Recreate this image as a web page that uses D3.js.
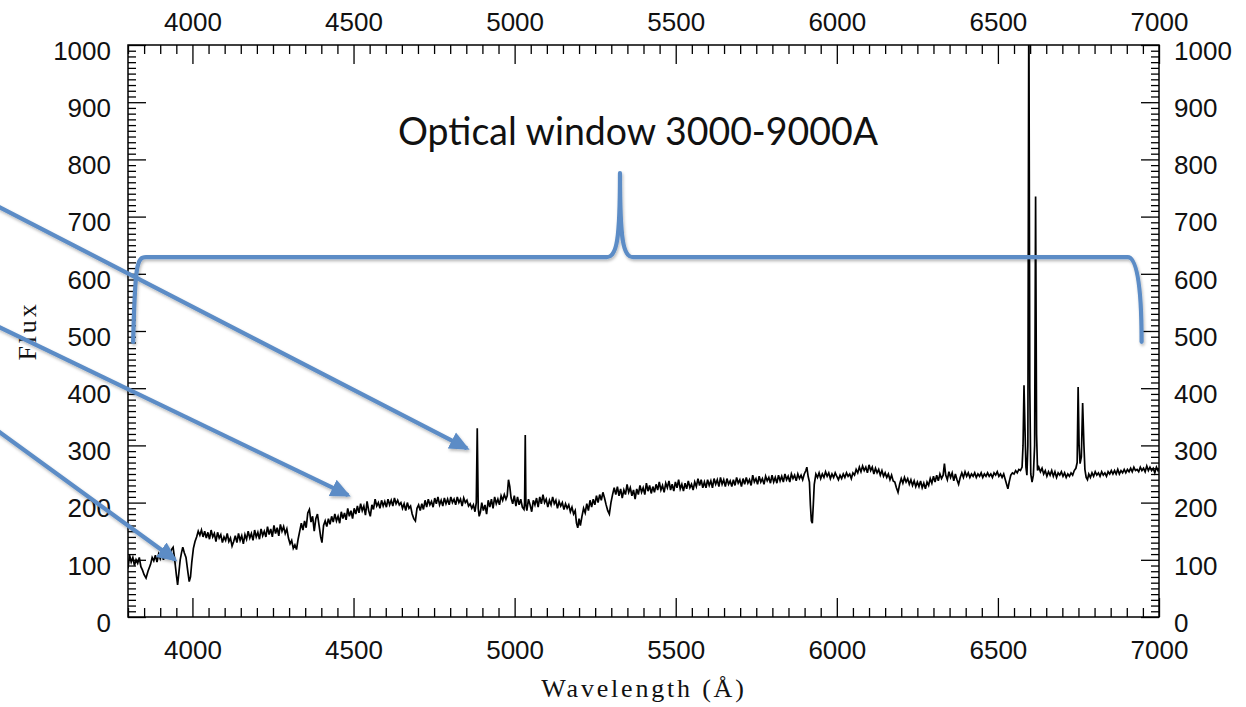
<!DOCTYPE html>
<html><head><meta charset="utf-8">
<script src="https://cdn.jsdelivr.net/npm/d3@7/dist/d3.min.js"></script>
<style>body{margin:0;background:#fff;} svg{display:block}</style>
</head><body>
<svg id="chart" width="1246" height="707"></svg>
<script>
// ---------- data ----------
const xDomain = [3800, 7000];
const yDomain = [0, 1000];
const xMajorTicks = [4000, 4500, 5000, 5500, 6000, 6500, 7000];
const yMajorTicks = [0, 100, 200, 300, 400, 500, 600, 700, 800, 900, 1000];
const xTitle = "Wavelength (Å)";
const yTitle = "Flux";
const annotationText = "Optical window 3000-9000A";

// [wavelength (Å), flux]
const spectrum = [
[3800,85],[3805,108],[3810,96],[3815,104],[3820,90],[3825,100],[3830,94],[3835,104],[3840,88],[3845,82],[3850,74],[3856,68],[3862,80],[3870,92],[3875,104],[3880,98],[3885,108],[3890,96],[3895,110],[3900,102],[3905,112],[3910,100],[3915,114],[3920,106],[3925,116],[3930,108],[3935,118],[3940,122],[3945,100],[3950,74],[3954,56],[3958,78],[3962,100],[3966,112],[3970,122],[3975,112],[3980,104],[3986,78],[3990,62],[3994,70],[3998,96],[4003,120],[4008,132],[4013,140],[4018,150],[4023,143],[4028,152],[4033,140],[4038,150],[4043,138],[4048,148],[4053,136],[4058,152],[4063,140],[4068,146],[4073,132],[4078,148],[4083,138],[4088,144],[4093,130],[4098,140],[4103,134],[4108,146],[4113,132],[4118,138],[4123,124],[4128,132],[4133,142],[4138,130],[4143,146],[4148,134],[4153,142],[4158,128],[4163,144],[4168,136],[4173,150],[4178,138],[4183,146],[4188,134],[4193,152],[4198,140],[4203,148],[4208,136],[4213,154],[4218,142],[4223,150],[4228,140],[4233,158],[4238,144],[4243,154],[4248,140],[4253,160],[4258,146],[4263,156],[4268,142],[4273,162],[4278,150],[4283,158],[4288,146],[4293,154],[4298,138],[4303,128],[4308,134],[4313,120],[4318,126],[4323,118],[4328,136],[4333,150],[4338,164],[4343,152],[4348,168],[4353,156],[4358,182],[4363,188],[4368,166],[4373,176],[4378,150],[4383,172],[4388,180],[4393,160],[4398,140],[4402,130],[4407,160],[4412,168],[4417,158],[4422,172],[4427,162],[4432,176],[4437,166],[4442,180],[4447,168],[4452,176],[4457,164],[4462,184],[4467,172],[4472,182],[4477,170],[4482,190],[4487,176],[4492,186],[4497,172],[4502,190],[4507,180],[4512,194],[4517,182],[4522,198],[4527,186],[4532,194],[4537,178],[4542,202],[4547,186],[4552,176],[4557,196],[4562,188],[4567,206],[4572,194],[4577,200],[4582,190],[4587,204],[4592,194],[4597,202],[4602,192],[4607,206],[4612,196],[4617,204],[4622,194],[4627,208],[4632,198],[4637,204],[4642,196],[4647,200],[4652,190],[4657,198],[4662,186],[4667,200],[4672,190],[4677,194],[4682,180],[4687,172],[4692,168],[4697,190],[4702,196],[4707,186],[4712,198],[4717,188],[4722,204],[4727,192],[4732,206],[4737,196],[4742,202],[4747,192],[4752,208],[4757,198],[4762,210],[4767,196],[4772,204],[4777,194],[4782,208],[4787,198],[4792,206],[4797,196],[4802,210],[4807,200],[4812,206],[4817,196],[4822,210],[4827,200],[4832,206],[4837,194],[4842,208],[4847,200],[4852,204],[4857,194],[4862,198],[4867,190],[4872,196],[4877,184],[4881,200],[4884,330],[4887,190],[4890,176],[4894,184],[4898,200],[4903,186],[4908,196],[4913,180],[4918,204],[4923,192],[4928,206],[4933,190],[4938,210],[4943,198],[4948,206],[4953,196],[4958,212],[4963,204],[4968,214],[4973,206],[4977,212],[4981,240],[4985,228],[4989,208],[4994,198],[4999,212],[5004,194],[5009,210],[5014,196],[5019,206],[5024,192],[5029,188],[5031,200],[5033,318],[5035,196],[5038,186],[5043,206],[5048,196],[5053,184],[5058,204],[5063,196],[5068,208],[5073,192],[5078,210],[5083,198],[5088,214],[5093,200],[5098,206],[5103,192],[5108,204],[5113,196],[5118,210],[5123,198],[5128,204],[5133,190],[5138,202],[5143,194],[5148,200],[5153,188],[5158,198],[5163,190],[5168,196],[5173,184],[5178,192],[5183,180],[5188,186],[5192,164],[5196,156],[5200,172],[5204,160],[5209,176],[5214,190],[5219,182],[5224,198],[5229,186],[5234,204],[5239,192],[5244,206],[5249,196],[5254,212],[5259,200],[5264,214],[5269,204],[5274,218],[5279,208],[5284,196],[5289,186],[5294,180],[5299,200],[5304,214],[5309,226],[5314,214],[5319,228],[5324,212],[5329,224],[5334,208],[5339,222],[5344,214],[5349,232],[5354,218],[5359,226],[5364,212],[5369,222],[5374,206],[5379,224],[5384,214],[5389,230],[5394,218],[5399,226],[5404,214],[5409,234],[5414,220],[5419,230],[5424,216],[5429,228],[5434,218],[5439,232],[5444,222],[5449,236],[5454,222],[5459,230],[5464,218],[5469,234],[5474,226],[5479,238],[5484,222],[5489,232],[5494,220],[5499,236],[5504,226],[5509,240],[5514,224],[5519,232],[5524,220],[5529,234],[5534,224],[5539,238],[5544,226],[5549,232],[5554,222],[5559,236],[5564,228],[5569,242],[5574,230],[5579,240],[5584,226],[5589,236],[5594,226],[5599,240],[5604,230],[5609,238],[5614,226],[5619,242],[5624,232],[5629,240],[5634,228],[5639,244],[5644,232],[5649,240],[5654,228],[5659,242],[5664,232],[5669,238],[5674,228],[5679,240],[5684,230],[5689,244],[5694,234],[5699,240],[5704,228],[5709,242],[5714,232],[5719,244],[5724,234],[5729,240],[5734,230],[5739,248],[5744,236],[5749,242],[5754,232],[5759,246],[5764,236],[5769,242],[5774,232],[5779,246],[5784,238],[5789,244],[5794,234],[5799,248],[5804,236],[5809,244],[5814,234],[5819,248],[5824,238],[5829,246],[5834,236],[5839,250],[5844,240],[5849,246],[5854,236],[5859,250],[5864,242],[5869,248],[5874,238],[5879,250],[5884,242],[5889,248],[5894,240],[5899,250],[5904,256],[5907,262],[5911,246],[5915,236],[5918,196],[5921,168],[5924,164],[5927,196],[5930,232],[5935,250],[5940,244],[5945,252],[5950,242],[5955,250],[5960,244],[5965,254],[5970,246],[5975,252],[5980,242],[5985,250],[5990,244],[5995,252],[6000,246],[6005,240],[6010,248],[6015,242],[6020,250],[6025,244],[6030,252],[6035,246],[6040,250],[6045,242],[6050,252],[6055,248],[6060,258],[6065,252],[6070,262],[6075,254],[6080,264],[6085,256],[6090,262],[6095,252],[6100,266],[6105,256],[6110,262],[6115,250],[6120,260],[6125,252],[6130,258],[6135,248],[6140,256],[6145,246],[6150,252],[6155,244],[6160,250],[6165,240],[6170,248],[6175,238],[6180,236],[6185,226],[6190,218],[6195,232],[6200,242],[6205,234],[6210,244],[6215,236],[6220,242],[6225,232],[6230,240],[6235,230],[6240,238],[6245,228],[6250,236],[6255,228],[6260,238],[6265,226],[6270,234],[6275,224],[6280,236],[6285,230],[6290,242],[6295,234],[6300,246],[6305,236],[6310,248],[6315,238],[6320,250],[6325,242],[6330,248],[6334,268],[6338,248],[6343,240],[6348,254],[6353,244],[6358,252],[6363,238],[6368,250],[6373,240],[6378,232],[6383,244],[6388,252],[6393,244],[6398,254],[6403,246],[6408,252],[6413,244],[6418,250],[6423,246],[6428,252],[6433,244],[6438,250],[6443,246],[6448,252],[6453,244],[6458,250],[6463,246],[6468,252],[6473,246],[6478,250],[6483,244],[6488,252],[6493,248],[6498,254],[6503,246],[6508,250],[6513,244],[6518,250],[6523,240],[6527,232],[6531,224],[6535,236],[6540,248],[6545,252],[6550,250],[6555,256],[6560,252],[6565,258],[6570,256],[6575,262],[6578,300],[6581,405],[6584,330],[6587,262],[6590,248],[6593,300],[6596,1100],[6599,400],[6602,250],[6606,236],[6610,248],[6614,300],[6617,735],[6620,320],[6623,256],[6627,262],[6632,254],[6637,260],[6642,250],[6647,256],[6652,246],[6657,254],[6662,248],[6667,256],[6672,246],[6677,254],[6682,244],[6687,252],[6692,248],[6697,254],[6702,246],[6707,252],[6712,244],[6717,250],[6722,246],[6727,252],[6732,248],[6737,256],[6742,260],[6746,270],[6749,402],[6752,300],[6755,268],[6759,280],[6763,374],[6767,300],[6770,258],[6774,244],[6778,240],[6782,250],[6787,244],[6792,252],[6797,246],[6802,254],[6807,248],[6812,252],[6817,246],[6822,254],[6827,248],[6832,252],[6837,246],[6842,254],[6847,250],[6852,256],[6857,250],[6862,256],[6867,250],[6872,258],[6877,250],[6882,256],[6887,252],[6892,258],[6897,252],[6902,258],[6907,254],[6912,260],[6917,254],[6922,262],[6927,256],[6932,258],[6937,254],[6942,262],[6947,256],[6952,260],[6957,254],[6962,264],[6967,256],[6972,262],[6977,256],[6982,260],[6987,252],[6992,262],[6997,256],[7000,260]
];

// annotation arrows: [start, tip] in (wavelength, flux) units
const arrows = [
  [[3341, 734], [4852, 295]],
  [[3341, 523], [4483, 213]],
  [[3341, 348], [3946, 100]]
];
// curly bracket over the spectrum, path commands in (wavelength, flux) units
const bracket = [
  ["M", 3816, 481],
  ["C", 3822, 620, 3828, 629, 3856, 629],
  ["L", 5286, 629],
  ["C", 5317, 629, 5327, 659, 5327, 776],
  ["C", 5327, 659, 5337, 629, 5367, 629],
  ["L", 6903, 629],
  ["C", 6928, 629, 6946, 590, 6946, 481]
];

// ---------- drawing ----------
const svg = d3.select("#chart");
const W = 1246, H = 707;
const mLeft = 128, mRight = 1159, mTop = 45, mBottom = 617;
const x = d3.scaleLinear().domain(xDomain).range([mLeft, mRight]);
const y = d3.scaleLinear().domain(yDomain).range([mBottom, mTop]);

svg.append("rect").attr("width", W).attr("height", H).attr("fill", "#fff");

const defs = svg.append("defs");
defs.append("clipPath").attr("id", "plotclip")
  .append("rect").attr("x", mLeft).attr("y", mTop).attr("width", mRight - mLeft).attr("height", mBottom - mTop);
const flt = defs.append("filter").attr("id", "shadow").attr("x", "-10%").attr("y", "-10%").attr("width", "120%").attr("height", "130%");
flt.append("feDropShadow").attr("dx", 1).attr("dy", 2).attr("stdDeviation", 1.6)
  .attr("flood-color", "#000").attr("flood-opacity", 0.28);
defs.append("marker").attr("id", "ahead").attr("markerUnits", "userSpaceOnUse")
  .attr("viewBox", "0 -10 20 20").attr("refX", 17).attr("refY", 0)
  .attr("markerWidth", 20).attr("markerHeight", 20).attr("orient", "auto")
  .append("path").attr("d", "M0,-9 L20,0 L0,9 Z").attr("fill", "#5b8cc6");

const tickFont = "'Liberation Sans', Arial, Helvetica, sans-serif";
const minorX = d3.range(xDomain[0], xDomain[1] + 1, 50).filter(v => !xMajorTicks.includes(v));
const minorY = d3.range(yDomain[0], yDomain[1] + 1, 10).filter(v => !yMajorTicks.includes(v));

function styleAxis(g) {
  g.select(".domain").remove();
  g.selectAll("line").attr("stroke", "#000").attr("stroke-width", 1.3);
  g.selectAll("text").attr("font-family", tickFont).attr("font-size", 26).attr("fill", "#111");
}

// bottom
svg.append("g").attr("transform", `translate(0,${mBottom})`)
  .call(d3.axisBottom(x).tickValues(minorX).tickSize(-9).tickFormat("")).call(styleAxis);
svg.append("g").attr("transform", `translate(0,${mBottom})`)
  .call(d3.axisBottom(x).tickValues(xMajorTicks).tickSize(-19).tickPadding(24).tickFormat(d3.format("d"))).call(styleAxis);
// top
svg.append("g").attr("transform", `translate(0,${mTop})`)
  .call(d3.axisTop(x).tickValues(minorX).tickSize(-9).tickFormat("")).call(styleAxis);
svg.append("g").attr("transform", `translate(0,${mTop})`)
  .call(d3.axisTop(x).tickValues(xMajorTicks).tickSize(-19).tickPadding(14).tickFormat(d3.format("d"))).call(styleAxis);
// left
svg.append("g").attr("transform", `translate(${mLeft},0)`)
  .call(d3.axisLeft(y).tickValues(minorY).tickSize(-8).tickFormat("")).call(styleAxis);
svg.append("g").attr("transform", `translate(${mLeft},0)`)
  .call(d3.axisLeft(y).tickValues(yMajorTicks).tickSize(-18).tickPadding(17).tickFormat(d3.format("d"))).call(styleAxis)
  .selectAll("text").attr("dy", "0.55em");
// right
svg.append("g").attr("transform", `translate(${mRight},0)`)
  .call(d3.axisRight(y).tickValues(minorY).tickSize(-8).tickFormat("")).call(styleAxis);
svg.append("g").attr("transform", `translate(${mRight},0)`)
  .call(d3.axisRight(y).tickValues(yMajorTicks).tickSize(-18).tickPadding(15).tickFormat(d3.format("d"))).call(styleAxis)
  .selectAll("text").attr("dy", "0.55em");

// frame
svg.append("rect").attr("x", mLeft).attr("y", mTop).attr("width", mRight - mLeft).attr("height", mBottom - mTop)
  .attr("fill", "none").attr("stroke", "#000").attr("stroke-width", 1.5);

// spectrum
const line = d3.line().x(d => x(d[0])).y(d => y(d[1]));
svg.append("path").datum(spectrum).attr("clip-path", "url(#plotclip)")
  .attr("d", line).attr("fill", "none").attr("stroke", "#000").attr("stroke-width", 1.7)
  .attr("stroke-linejoin", "miter");

// axis titles
svg.append("text").attr("x", 644).attr("y", 697).attr("text-anchor", "middle")
  .attr("font-family", "'Liberation Serif', 'DejaVu Serif', serif").attr("font-size", 26)
  .attr("letter-spacing", 2.8).attr("fill", "#111").text(xTitle);
svg.append("text").attr("transform", "translate(36,331) rotate(-90)").attr("text-anchor", "middle")
  .attr("font-family", "'Liberation Serif', 'DejaVu Serif', serif").attr("font-size", 26)
  .attr("letter-spacing", 2.8).attr("fill", "#111").text(yTitle);

// annotation layer
const ann = svg.append("g").attr("filter", "url(#shadow)");
const bp = d3.path();
bracket.forEach(c => {
  if (c[0] === "M") bp.moveTo(x(c[1]), y(c[2]));
  else if (c[0] === "L") bp.lineTo(x(c[1]), y(c[2]));
  else bp.bezierCurveTo(x(c[1]), y(c[2]), x(c[3]), y(c[4]), x(c[5]), y(c[6]));
});
ann.append("path").attr("d", bp.toString()).attr("fill", "none").attr("stroke", "#5b8cc6")
  .attr("stroke-width", 4.2).attr("stroke-linecap", "round").attr("stroke-linejoin", "round");

const aLine = d3.line().x(d => x(d[0])).y(d => y(d[1]));
ann.selectAll(".arrow").data(arrows).enter().append("path").attr("class", "arrow")
  .attr("d", aLine).attr("fill", "none").attr("stroke", "#5b8cc6").attr("stroke-width", 4.2)
  .attr("marker-end", "url(#ahead)");

svg.append("text").attr("x", 398).attr("y", 145)
  .attr("font-family", "Lato, 'Open Sans', sans-serif").attr("font-size", 38)
  .attr("textLength", 480).attr("lengthAdjust", "spacingAndGlyphs")
  .attr("fill", "#111").text(annotationText);
</script>
</body></html>
